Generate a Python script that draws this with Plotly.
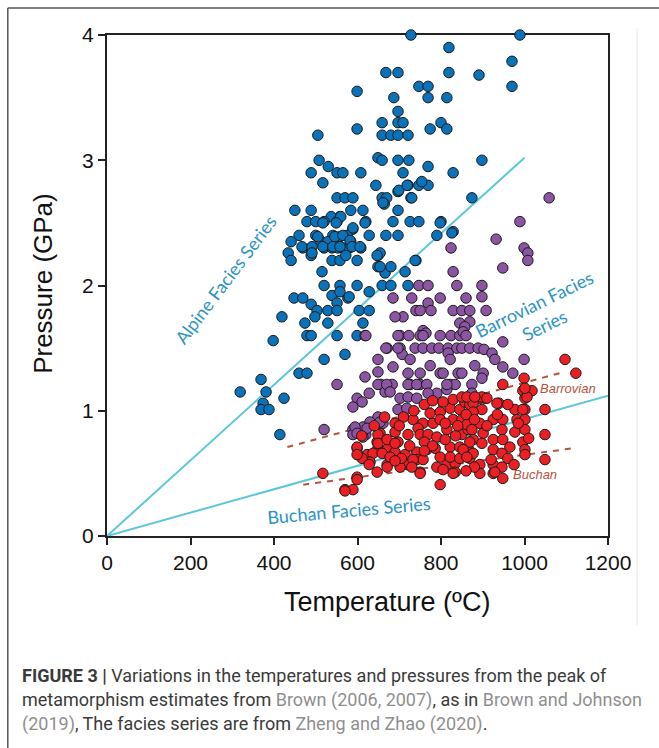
import plotly.graph_objects as go

# peak metamorphism estimates (T in degC, P in GPa)
blue_t = [668, 697, 599, 687, 697, 659, 697, 599, 505, 659, 680, 697, 649, 659, 697, 508, 530, 489, 551, 565,
          608, 517, 644, 551, 570, 589, 659, 670, 664, 697, 450, 489, 584, 613, 697, 558, 537, 620, 479, 500,
          520, 551, 685, 589, 460, 500, 541, 558, 575, 628, 668, 697, 441, 510, 529, 584, 469, 489, 520, 539,
          553, 565, 580, 608, 489, 434, 441, 539, 558, 572, 599, 649, 649, 666, 680, 515, 520, 558, 599, 628,
          448, 469, 489, 503, 539, 551, 558, 577, 529, 551, 604, 628, 419, 498, 474, 529, 613, 479, 489, 551,
          599, 398, 570, 520, 460, 479, 369, 319, 381, 424, 374, 369, 388, 414,
          728, 989, 819, 970, 819, 891, 970, 747, 769, 769, 814, 709, 774, 800, 814, 721, 723, 769, 898, 709,
          829, 721, 747, 769, 754, 728, 661, 874, 726, 747, 800, 790, 829, 740, 714, 654, 654,
          699, 719, 730, 618, 517, 560, 549, 798, 505, 546, 565, 582, 589, 467, 491, 491, 517, 541, 558, 587,
          606, 647, 738, 659, 680, 721, 580, 826]
blue_p = [3.70, 3.70, 3.55, 3.50, 3.39, 3.30, 3.30, 3.25, 3.20, 3.20, 3.20, 3.20, 3.02, 3.00, 3.00, 3.00, 2.95, 2.90, 2.90, 2.90,
          2.90, 2.82, 2.80, 2.70, 2.70, 2.70, 2.70, 2.70, 2.65, 2.75, 2.60, 2.60, 2.60, 2.60, 2.60, 2.55, 2.55, 2.51, 2.51, 2.51,
          2.51, 2.51, 2.51, 2.45, 2.40, 2.40, 2.40, 2.39, 2.40, 2.40, 2.40, 2.40, 2.35, 2.36, 2.35, 2.35, 2.30, 2.30, 2.30, 2.30,
          2.30, 2.30, 2.30, 2.30, 2.24, 2.26, 2.20, 2.20, 2.20, 2.24, 2.20, 2.24, 2.15, 2.10, 2.15, 2.11, 2.00, 2.00, 2.00, 1.95,
          1.90, 1.90, 1.85, 1.80, 1.92, 1.86, 1.95, 1.90, 1.80, 1.80, 1.80, 1.80, 1.75, 1.75, 1.70, 1.70, 1.70, 1.60, 1.60, 1.60,
          1.60, 1.56, 1.45, 1.41, 1.30, 1.30, 1.25, 1.15, 1.15, 1.10, 1.06, 1.01, 1.01, 0.81,
          4.00, 4.00, 3.90, 3.79, 3.70, 3.68, 3.59, 3.59, 3.59, 3.50, 3.50, 3.30, 3.25, 3.30, 3.25, 3.20, 3.00, 2.95, 3.00, 2.90,
          2.90, 2.80, 2.80, 2.80, 2.83, 2.70, 2.66, 2.70, 2.51, 2.51, 2.51, 2.40, 2.43, 2.20, 2.11, 2.26, 2.15,
          2.76, 2.80, 2.70, 2.50, 2.50, 2.55, 2.50, 2.50, 2.39, 2.39, 2.40, 2.36, 2.46, 2.31, 2.31, 2.26, 2.31, 2.31, 2.31, 2.31,
          2.31, 2.24, 2.20, 2.00, 2.00, 2.00, 1.91, 2.42]

purple_t = [1059, 989, 932, 999, 1008, 1008, 824, 948, 829, 747, 769, 838, 898, 685, 730, 798, 860, 898, 769, 740,
            750, 776, 829, 850, 869, 908, 709, 845, 869, 857, 757, 764, 702, 723, 750, 757, 798, 824, 845, 853,
            860, 948, 618, 671, 702, 738, 757, 778, 795, 817, 838, 850, 869, 889, 903, 817, 707, 726, 922, 929,
            999, 649, 822, 685, 774, 881, 948, 721, 750, 798, 805, 841, 850, 901, 972, 618, 656, 683, 726, 750,
            822, 834, 874, 898, 628, 666, 790, 814, 874, 690, 620, 697, 668, 697, 649, 551, 649, 670, 678, 599,
            611, 589, 697, 649, 661, 520, 589, 613, 620, 589, 721, 742, 766, 702, 721, 742, 769, 814, 718, 630,
            654, 594, 623, 599, 613]
purple_p = [2.70, 2.51, 2.37, 2.30, 2.26, 2.20, 2.30, 2.14, 2.11, 2.00, 2.00, 2.00, 2.00, 1.90, 1.90, 1.90, 1.90, 1.91, 1.86, 1.80,
            1.80, 1.80, 1.80, 1.80, 1.80, 1.80, 1.75, 1.70, 1.71, 1.67, 1.64, 1.62, 1.60, 1.60, 1.60, 1.60, 1.60, 1.60, 1.60, 1.63,
            1.60, 1.55, 1.60, 1.50, 1.50, 1.50, 1.50, 1.50, 1.50, 1.50, 1.50, 1.50, 1.50, 1.50, 1.49, 1.46, 1.45, 1.41, 1.46, 1.41,
            1.41, 1.41, 1.41, 1.35, 1.36, 1.36, 1.35, 1.30, 1.30, 1.30, 1.30, 1.30, 1.30, 1.30, 1.30, 1.27, 1.21, 1.21, 1.21, 1.21,
            1.21, 1.21, 1.21, 1.26, 1.14, 1.15, 1.14, 1.17, 1.14, 1.75, 1.60, 1.60, 1.50, 1.50, 1.31, 1.21, 1.21, 1.21, 1.15, 1.10,
            1.07, 1.03, 1.01, 0.95, 0.90, 0.85, 0.85, 0.87, 0.81, 0.81, 1.21, 1.21, 1.21, 1.10, 1.11, 1.10, 1.14, 1.21, 1.02, 0.91,
            0.91, 0.87, 0.86, 0.82, 0.79]

red_t = [690, 690, 733, 757, 781, 745, 654, 647, 697, 721, 750, 769, 790, 814, 599, 649, 673, 623, 637, 659,
         690, 714, 601, 630, 611, 742, 766, 786, 742, 757, 671, 718, 750, 647, 790, 814, 834, 834, 517, 599,
         570, 589, 798, 774, 798, 822, 845, 857, 869, 829, 850, 798, 829, 850, 822, 845, 865, 798, 822, 845,
         869, 850, 865, 877, 1097, 1123, 948, 996, 1018, 1001, 939, 905, 893, 877, 977, 1001, 1049, 898, 877, 925,
         948, 982, 1001, 893, 862, 946, 977, 1001, 1049, 874, 901, 925, 948, 869, 898, 965, 996, 1001, 853, 877,
         925, 946, 1049, 893, 925, 946, 1001, 925, 948, 862, 999, 1006, 862, 898, 910, 934, 996, 750, 702, 671,
         829, 805, 893, 929, 733, 649, 649, 671, 690, 599, 599, 678, 628, 599, 570, 881, 1001,
         710, 735, 760, 780, 805, 700, 725, 760, 780, 810, 835, 760, 705, 730, 690, 810, 840, 860, 880, 910,
         935, 960, 920, 960, 880, 860, 975, 985, 1010, 640, 665, 610]
red_p = [0.90, 0.83, 0.93, 0.90, 0.90, 0.86, 0.82, 0.75, 0.75, 0.81, 0.81, 0.81, 0.79, 0.85, 0.70, 0.70, 0.70, 0.65, 0.66, 0.66,
         0.67, 0.65, 0.65, 0.59, 0.62, 0.67, 0.69, 0.70, 0.61, 0.61, 0.57, 0.57, 0.51, 0.51, 0.55, 0.57, 0.58, 0.51, 0.50, 0.47,
         0.37, 0.37, 0.41, 0.98, 0.99, 1.02, 1.01, 1.07, 1.05, 1.09, 1.11, 0.93, 0.93, 0.93, 0.71, 0.71, 0.70, 0.63, 0.63, 0.62,
         0.62, 0.81, 0.85, 0.77, 1.41, 1.30, 1.21, 1.16, 1.16, 1.10, 1.06, 1.10, 1.10, 1.06, 1.01, 1.01, 1.01, 1.01, 0.99, 0.93,
         0.93, 0.93, 0.93, 0.90, 0.89, 0.85, 0.83, 0.85, 0.81, 0.85, 0.82, 0.77, 0.77, 0.75, 0.74, 0.71, 0.75, 0.69, 0.69, 0.66,
         0.69, 0.66, 0.61, 0.57, 0.57, 0.55, 0.65, 0.50, 0.46, 0.63, 1.26, 1.11, 1.11, 1.11, 1.10, 1.06, 1.01, 0.50, 0.55, 0.55,
         0.50, 0.53, 0.50, 0.51, 0.61, 0.81, 0.74, 0.77, 0.74, 0.71, 0.65, 0.63, 0.57, 0.45, 0.36, 1.11, 1.18,
         0.95, 1.00, 1.05, 1.08, 1.07, 0.88, 0.72, 0.75, 0.72, 0.77, 0.80, 0.68, 0.62, 0.55, 0.60, 0.90, 0.88, 0.97, 0.93, 0.88,
         0.97, 1.05, 0.61, 0.62, 0.55, 0.52, 0.57, 0.90, 0.78, 0.88, 0.95, 0.80]

# facies series lines and the dashed Barrovian / Buchan bands
alpine_t, alpine_p = [0, 1000], [0, 3.02]
buchan_t, buchan_p = [0, 1200], [0, 1.12]
barrovian_dash_t, barrovian_dash_p = [432, 1095], [0.71, 1.31]
buchan_dash_t, buchan_dash_p = [470, 1115], [0.41, 0.70]

x_ticks = [0, 200, 400, 600, 800, 1000, 1200]
y_ticks = [0, 1, 2, 3, 4]

cyan = "#5cc6dc"
label_blue = "#2b93c4"
brown = "#b5533c"

fig = go.Figure()

for t, p in [(alpine_t, alpine_p), (buchan_t, buchan_p)]:
    fig.add_trace(go.Scatter(x=t, y=p, mode="lines", line=dict(color=cyan, width=2),
                             hoverinfo="skip", cliponaxis=False))

for t, p in [(barrovian_dash_t, barrovian_dash_p), (buchan_dash_t, buchan_dash_p)]:
    fig.add_trace(go.Scatter(x=t, y=p, mode="lines", line=dict(color=brown, width=2, dash="6px,6px"),
                             hoverinfo="skip"))

for t, p, c in [(blue_t, blue_p, "#0a72b9"), (purple_t, purple_p, "#8c55a3"), (red_t, red_p, "#ec2024")]:
    fig.add_trace(go.Scatter(x=t, y=p, mode="markers", cliponaxis=False,
                             marker=dict(size=10.5, color=c, line=dict(color="#1a1a1a", width=1))))

axis_font = dict(family="Liberation Sans, Arial, sans-serif", size=21, color="#111")
fig.update_xaxes(range=[0, 1200], tickvals=x_ticks, showgrid=False, zeroline=False,
                 showline=True, mirror=True, linecolor="#222", linewidth=2, layer="below traces",
                 ticks="outside", ticklen=7, tickwidth=1.5, tickcolor="#222", tickfont=axis_font)
fig.update_yaxes(range=[0, 4], tickvals=y_ticks, showgrid=False, zeroline=False,
                 showline=True, mirror=True, linecolor="#222", linewidth=2, layer="below traces",
                 ticks="outside", ticklen=7, tickwidth=1.5, tickcolor="#222", tickfont=axis_font)

label_font = dict(family="Lato, Open Sans, sans-serif", size=18, color=label_blue)
ann = [
    dict(x=285, y=2.05, text="Alpine Facies Series", textangle=-53, font=label_font),
    dict(x=1035, y=1.77, text="Barrovian Facies<br>Series", textangle=-26, font=label_font),
    dict(x=580, y=0.21, text="Buchan Facies Series", textangle=-5, font=label_font),
    dict(x=1105, y=1.18, text="<i>Barrovian</i>",
         font=dict(family="Liberation Sans, Arial", size=13, color=brown)),
    dict(x=1026, y=0.49, text="<i>Buchan</i>",
         font=dict(family="Liberation Sans, Arial", size=13, color=brown)),
]
for a in ann:
    fig.add_annotation(xref="x", yref="y", showarrow=False, xanchor="center", yanchor="middle", **a)

title_font = dict(family="Liberation Sans, Arial, sans-serif", size=27, color="#111")
fig.add_annotation(xref="paper", yref="paper", x=0.559, y=-0.132, text="Temperature (ºC)",
                   xanchor="center", yanchor="middle", showarrow=False, font=title_font)
fig.add_annotation(xref="paper", yref="paper", x=-0.128, y=0.505, text="Pressure (GPa)",
                   xanchor="center", yanchor="middle", textangle=-90, showarrow=False,
                   font=dict(title_font, size=26))

# caption below the chart
cap_font = dict(family="Roboto, sans-serif", size=18, color="#3a3a3a")
ref = "<span style='color:#8f8f8f'>{}</span>"
caption = [
    "<b>FIGURE 3 |</b> Variations in the temperatures and pressures from the peak of",
    "metamorphism estimates from " + ref.format("Brown (2006, 2007)") + ", as in " + ref.format("Brown and Johnson"),
    ref.format("(2019)") + ", The facies series are from " + ref.format("Zheng and Zhao (2020)") + ".",
]
for i, line in enumerate(caption):
    fig.add_annotation(xref="paper", yref="paper", x=-0.174, y=-0.279 - 0.048 * i,
                       xanchor="left", yanchor="middle", text=line, showarrow=False, font=cap_font)

# page frame around the figure
fig.add_shape(type="line", xref="paper", yref="paper", x0=-0.198, x1=1.11, y0=1.054, y1=1.054,
              line=dict(color="#555", width=1.5))
fig.add_shape(type="line", xref="paper", yref="paper", x0=-0.198, x1=-0.198, y0=1.054, y1=-0.43,
              line=dict(color="#555", width=1.5))
fig.add_shape(type="line", xref="paper", yref="paper", x0=1.058, x1=1.058, y0=1.014, y1=-0.178,
              line=dict(color="#e6e6e6", width=1))

fig.update_layout(width=659, height=748, showlegend=False, hovermode=False,
                  margin=dict(l=107, r=51, t=35, b=212),
                  paper_bgcolor="white", plot_bgcolor="white")

fig.write_html("out.html", config={"displayModeBar": False},
               post_script="document.body.style.margin='0';")
